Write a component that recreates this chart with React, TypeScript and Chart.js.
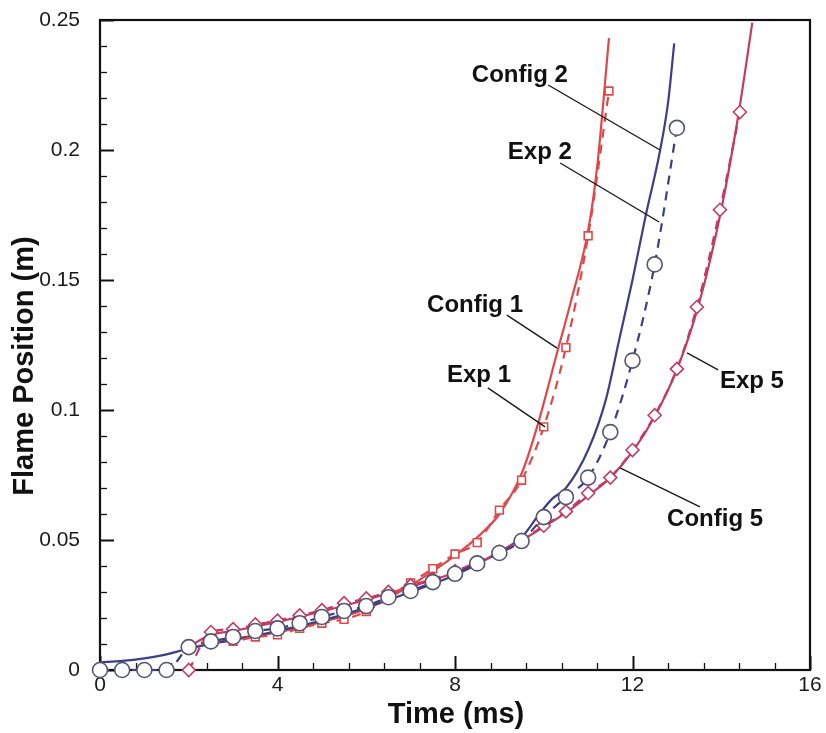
import { useEffect, useRef } from 'react';
import { Chart, registerables } from 'chart.js';

Chart.register(...registerables);

// ---- Simulated flame position (solid curves) ----
const config1Time = [2.0, 2.5, 3.0, 4.0, 5.0, 6.0, 7.0, 7.5, 8.0, 8.5, 9.0, 9.5, 9.85, 10.3, 10.6, 11.0, 11.2, 11.47];
const config1Pos = [0.008, 0.0105, 0.012, 0.0145, 0.0185, 0.0235, 0.0325, 0.038, 0.044, 0.051, 0.06, 0.0755, 0.0935, 0.122, 0.141, 0.169, 0.193, 0.243];

const config2Time = [0.0, 0.5, 1.0, 1.5, 1.9, 2.5, 3.0, 4.0, 5.0, 6.0, 7.0, 8.0, 9.0, 9.5, 9.9, 10.2, 10.5, 11.0, 11.4, 11.7, 12.0, 12.3, 12.6, 12.8, 12.94];
const config2Pos = [0.003, 0.0035, 0.0045, 0.006, 0.0078, 0.01, 0.0115, 0.015, 0.019, 0.024, 0.03, 0.0365, 0.0455, 0.051, 0.06, 0.066, 0.07, 0.0846, 0.104, 0.127, 0.15, 0.175, 0.198, 0.218, 0.241];

const config5Time = [2.0, 2.5, 3.0, 4.0, 5.0, 6.0, 7.0, 8.0, 9.0, 10.0, 10.5, 11.0, 11.5, 12.0, 12.5, 13.0, 13.5, 14.0, 14.4, 14.7];
const config5Pos = [0.009, 0.0135, 0.015, 0.0185, 0.0225, 0.027, 0.032, 0.0375, 0.045, 0.055, 0.0605, 0.067, 0.074, 0.084, 0.0975, 0.1155, 0.141, 0.177, 0.215, 0.249];

// ---- Measured flame position (dashed curves with symbols) ----
const exp1Time = [2.5, 3.0, 3.5, 4.0, 4.5, 5.0, 5.5, 6.0, 6.5, 7.0, 7.5, 8.0, 8.5, 9.0, 9.5, 10.0, 10.5, 11.0, 11.47];
const exp1Pos = [0.0104, 0.011, 0.0127, 0.0135, 0.016, 0.018, 0.0195, 0.0225, 0.028, 0.0335, 0.039, 0.0446, 0.049, 0.0615, 0.073, 0.0935, 0.124, 0.167, 0.2227];

const exp2Time = [0, 0.5, 1.0, 1.5, 2.0, 2.5, 3.0, 3.5, 4.0, 4.5, 5.0, 5.5, 6.0, 6.5, 7.0, 7.5, 8.0, 8.5, 9.0, 9.5, 10.0, 10.5, 11.0, 11.5, 12.0, 12.5, 13.0];
const exp2Pos = [0, 0, 0, 0, 0.0088, 0.011, 0.0127, 0.015, 0.016, 0.018, 0.0204, 0.0227, 0.0246, 0.028, 0.0304, 0.0338, 0.037, 0.041, 0.045, 0.0496, 0.0588, 0.0665, 0.074, 0.0915, 0.119, 0.156, 0.2085];

const exp5Time = [2.0, 2.5, 3.0, 3.5, 4.0, 4.5, 5.0, 5.5, 6.0, 6.5, 7.0, 7.5, 8.0, 8.5, 9.0, 9.5, 10.0, 10.5, 11.0, 11.5, 12.0, 12.5, 13.0, 13.45, 13.97, 14.42];
const exp5Pos = [0, 0.0146, 0.0157, 0.0175, 0.019, 0.021, 0.023, 0.0257, 0.0275, 0.03, 0.0325, 0.035, 0.038, 0.0415, 0.0455, 0.05, 0.0555, 0.061, 0.068, 0.074, 0.0846, 0.098, 0.1158, 0.1396, 0.177, 0.2146];

// ---- Axis ranges and tick labels ----
const timeTicks = [0, 4, 8, 12, 16];
const positionTicks = [0, 0.05, 0.1, 0.15, 0.2, 0.25];
const timeMinorStep = 0.8;
const positionMinorStep = 0.01;

// ---- Curve labels with leader lines (data coordinates) ----
const curveLabels = [
  { text: 'Config 2', t: 8.38, y: 0.2262, fromT: 10.1, fromY: 0.225, toT: 12.62, toY: 0.2 },
  { text: 'Exp 2', t: 9.19, y: 0.1965, fromT: 10.37, fromY: 0.195, toT: 12.6, toY: 0.1723 },
  { text: 'Config 1', t: 7.37, y: 0.1377, fromT: 9.17, fromY: 0.1365, toT: 10.3, toY: 0.1238 },
  { text: 'Exp 1', t: 7.82, y: 0.1108, fromT: 8.74, fromY: 0.1085, toT: 10.03, toY: 0.0935 },
  { text: 'Exp 5', t: 13.97, y: 0.1085, fromT: 13.93, fromY: 0.1154, toT: 13.23, toY: 0.122 },
  { text: 'Config 5', t: 12.78, y: 0.0554, fromT: 13.52, fromY: 0.0627, toT: 11.72, toY: 0.0777 },
];

const RED = '#e0474a';
const NAVY = '#3d3f85';
const CRIMSON = '#c33b63';
const CIRCLE_EDGE = '#55566f';
const FONT = "'Liberation Sans', Arial, Helvetica, sans-serif";

const pts = (t: number[], y: number[]) => t.map((x, i) => ({ x, y: y[i] }));

const framePlugin = {
  id: 'frameAndTicks',
  beforeDatasetsDraw(chart: any) {
    const { ctx, chartArea: a, scales } = chart;
    const xs = scales.x;
    const ys = scales.y;
    ctx.save();
    ctx.strokeStyle = '#111';
    // inward minor/major ticks on bottom axis
    for (let i = 0; i <= Math.round(16 / timeMinorStep); i++) {
      const v = i * timeMinorStep;
      const major = i % 5 === 0;
      const px = Math.round(xs.getPixelForValue(v)) + 0.5;
      ctx.lineWidth = major ? 2 : 1.3;
      ctx.beginPath();
      ctx.moveTo(px, a.bottom);
      ctx.lineTo(px, a.bottom - (major ? 14 : 7));
      ctx.stroke();
    }
    // inward minor/major ticks on left axis
    for (let i = 0; i <= Math.round(0.25 / positionMinorStep); i++) {
      const v = i * positionMinorStep;
      const major = i % 5 === 0;
      const py = Math.round(ys.getPixelForValue(v)) + 0.5;
      ctx.lineWidth = major ? 2 : 1.3;
      ctx.beginPath();
      ctx.moveTo(a.left, py);
      ctx.lineTo(a.left + (major ? 14 : 7), py);
      ctx.stroke();
    }
    ctx.lineWidth = 2.2;
    ctx.strokeRect(a.left, a.top, a.right - a.left, a.bottom - a.top);
    ctx.restore();
  },
  afterDraw(chart: any) {
    const { ctx, chartArea: a, scales } = chart;
    const xs = scales.x;
    const ys = scales.y;
    ctx.save();
    // leader lines and curve labels
    ctx.strokeStyle = '#1a1a1a';
    ctx.lineWidth = 1.4;
    ctx.fillStyle = '#111';
    ctx.font = `bold 24px ${FONT}`;
    ctx.textAlign = 'left';
    ctx.textBaseline = 'alphabetic';
    for (const l of curveLabels) {
      ctx.beginPath();
      ctx.moveTo(xs.getPixelForValue(l.fromT), ys.getPixelForValue(l.fromY));
      ctx.lineTo(xs.getPixelForValue(l.toT), ys.getPixelForValue(l.toY));
      ctx.stroke();
      ctx.fillText(l.text, xs.getPixelForValue(l.t), ys.getPixelForValue(l.y));
    }
    // axis titles
    ctx.font = `bold 29px ${FONT}`;
    ctx.textAlign = 'center';
    ctx.fillText('Time (ms)', (a.left + a.right) / 2 + 1, a.bottom + 53);
    ctx.translate(33, (a.top + a.bottom) / 2 + 21);
    ctx.rotate(-Math.PI / 2);
    ctx.fillText('Flame Position (m)', 0, 0);
    ctx.restore();
  },
};

export default function App() {
  const canvasRef = useRef<HTMLCanvasElement>(null);

  useEffect(() => {
    const canvas = canvasRef.current;
    if (!canvas) return;

    const solid = (label: string, t: number[], y: number[], color: string) => ({
      label,
      data: pts(t, y),
      borderColor: color,
      backgroundColor: color,
      borderWidth: 2.2,
      pointRadius: 0,
      cubicInterpolationMode: 'monotone' as const,
      clip: false as const,
    });

    const measured = (label: string, t: number[], y: number[], color: string, edge: string, style: string, radius: number) => ({
      label,
      data: pts(t, y),
      borderColor: color,
      backgroundColor: color,
      borderWidth: 2.2,
      borderDash: [9, 7],
      pointStyle: style,
      pointRadius: radius,
      pointBorderColor: edge,
      pointBackgroundColor: '#ffffff',
      pointBorderWidth: 1.6,
      cubicInterpolationMode: 'monotone' as const,
      clip: false as const,
    });

    const chart = new Chart(canvas, {
      type: 'line',
      data: {
        datasets: [
          measured('Exp 2', exp2Time, exp2Pos, NAVY, CIRCLE_EDGE, 'circle', 7.5),
          measured('Exp 5', exp5Time, exp5Pos, CRIMSON, CRIMSON, 'rectRot', 6.5),
          measured('Exp 1', exp1Time, exp1Pos, RED, RED, 'rect', 5.5),
          solid('Config 5', config5Time, config5Pos, CRIMSON),
          solid('Config 2', config2Time, config2Pos, NAVY),
          solid('Config 1', config1Time, config1Pos, RED),
        ] as any,
      },
      options: {
        animation: false,
        responsive: false,
        maintainAspectRatio: false,
        devicePixelRatio: 1,
        layout: { padding: { left: 0, top: 20, right: 16, bottom: 0 } },
        plugins: {
          legend: { display: false },
          tooltip: { enabled: false },
        },
        scales: {
          x: {
            type: 'linear',
            min: 0,
            max: 16,
            afterFit: (s: any) => {
              s.height = 63;
              s.paddingLeft = 0;
              s.paddingRight = 0;
            },
            afterBuildTicks: (s: any) => { s.ticks = timeTicks.map((v) => ({ value: v })); },
            grid: { display: false, drawTicks: false },
            border: { display: false },
            ticks: {
              padding: 3,
              color: '#1a1a1a',
              font: { family: FONT, size: 21 },
              callback: (v: any) => String(v),
            },
          },
          y: {
            type: 'linear',
            min: 0,
            max: 0.25,
            afterFit: (s: any) => {
              s.width = 100;
              s.paddingTop = 0;
              s.paddingBottom = 0;
            },
            afterBuildTicks: (s: any) => { s.ticks = positionTicks.map((v) => ({ value: v })); },
            grid: { display: false, drawTicks: false },
            border: { display: false },
            ticks: {
              padding: 20,
              color: '#1a1a1a',
              font: { family: FONT, size: 21 },
              callback: (v: any) => String(parseFloat(Number(v).toFixed(2))),
            },
          },
        },
      },
      plugins: [framePlugin],
    });

    return () => chart.destroy();
  }, []);

  return (
    <div style={{ position: 'fixed', left: 0, top: 0, width: 826, height: 733, background: '#ffffff' }}>
      <canvas ref={canvasRef} width={826} height={733} style={{ display: 'block', width: 826, height: 733 }} />
    </div>
  );
}
